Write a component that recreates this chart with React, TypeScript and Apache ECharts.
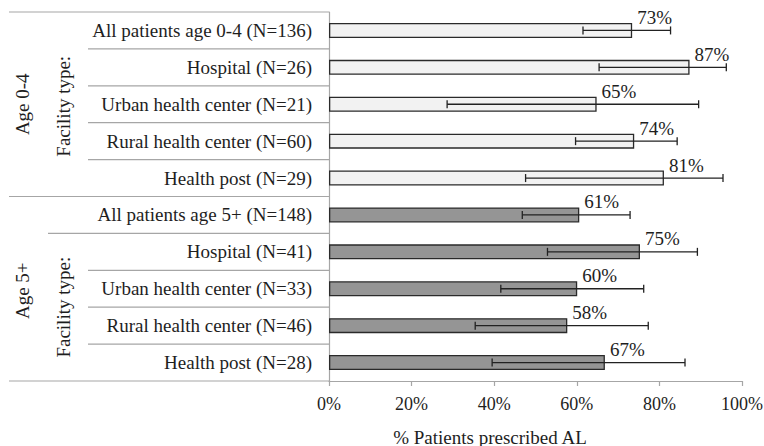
import React, { useEffect, useRef } from "react";
import * as echarts from "echarts";

const categories = [
  "All patients age 0-4 (N=136)",
  "Hospital (N=26)",
  "Urban health center (N=21)",
  "Rural health center (N=60)",
  "Health post (N=29)",
  "All patients age 5+ (N=148)",
  "Hospital (N=41)",
  "Urban health center (N=33)",
  "Rural health center (N=46)",
  "Health post (N=28)",
];
const values = [73.4, 87.3, 64.8, 73.9, 81.1, 60.6, 75.3, 60.1, 57.7, 66.8];
const lowerCI = [61.5, 65.4, 28.6, 59.7, 47.6, 46.8, 52.9, 41.6, 35.4, 39.5];
const upperCI = [82.7, 96.2, 89.5, 84.3, 95.4, 72.9, 89.2, 76.2, 77.3, 86.2];
const ageGroup = [0, 0, 0, 0, 0, 1, 1, 1, 1, 1];
const xTicks = [0, 20, 40, 60, 80, 100];

const FONT = "Liberation Serif";
const W = 764;
const H = 446;
const GRID_LEFT = 329;
const GRID_RIGHT = 22;
const GRID_TOP = 12;
const GRID_BOTTOM = 65;
const fills = ["#f2f2f2", "#959595"];
const TEXT = "#1e1e1e";

export default function App() {
  const ref = useRef<HTMLDivElement>(null);
  useEffect(() => {
    document.body.style.margin = "0";
    const chart = echarts.init(ref.current!, null, { renderer: "svg" });
    const plotH = H - GRID_TOP - GRID_BOTTOM;
    const band = plotH / categories.length;
    const yb = (i: number) => GRID_TOP + i * band;
    const lineStart = [9, 88, 88, 88, 88, 9, 48, 88, 88, 88, 9];
    const lineColor = "#a6a6a6";
    const graphics: any[] = lineStart.map((x0, i) => ({
      type: "line",
      shape: { x1: x0, y1: yb(i), x2: GRID_LEFT, y2: yb(i) },
      style: { stroke: lineColor, lineWidth: 1.2 },
      silent: true,
    }));
    const rotText = (text: string, x: number, y: number) => ({
      type: "text",
      x,
      y,
      rotation: Math.PI / 2,
      style: {
        text,
        align: "center",
        verticalAlign: "middle",
        fontFamily: FONT,
        fontSize: 19,
        fill: TEXT,
      },
      silent: true,
    });
    graphics.push(rotText("Age 0-4", 22, (yb(0) + yb(5)) / 2));
    graphics.push(rotText("Facility type:", 63, (yb(0) + yb(5)) / 2 + 2));
    graphics.push(rotText("Age 5+", 22, (yb(5) + yb(10)) / 2 + 2));
    graphics.push(rotText("Facility type:", 63, (yb(6) + yb(10)) / 2));
    graphics.push({
      type: "text",
      x: 490,
      y: 437,
      style: {
        text: "% Patients prescribed AL",
        align: "center",
        verticalAlign: "middle",
        fontFamily: FONT,
        fontSize: 19,
        fill: TEXT,
      },
      silent: true,
    });

    chart.setOption({
      animation: false,
      textStyle: { fontFamily: FONT },
      grid: {
        left: GRID_LEFT,
        right: GRID_RIGHT,
        top: GRID_TOP,
        bottom: GRID_BOTTOM,
        containLabel: false,
        outerBoundsMode: "none",
      },
      xAxis: {
        type: "value",
        min: 0,
        max: 100,
        interval: 20,
        splitLine: { show: false },
        axisLine: { show: true, lineStyle: { color: lineColor, width: 1.2 } },
        axisTick: { show: true, length: 5, lineStyle: { color: lineColor, width: 1.2 } },
        axisLabel: {
          formatter: (v: number) => (xTicks.includes(v) ? `${v}%` : ""),
          fontFamily: FONT,
          fontSize: 18,
          color: TEXT,
          margin: 14,
        },
      },
      yAxis: {
        type: "category",
        data: categories,
        inverse: true,
        axisLine: { show: true, lineStyle: { color: lineColor, width: 1.2 } },
        axisTick: { show: false },
        axisLabel: {
          fontFamily: FONT,
          fontSize: 19,
          color: TEXT,
          margin: 17,
        },
      },
      graphic: graphics,
      series: [
        {
          type: "bar",
          barWidth: 15,
          data: values.map((v, i) => ({
            value: v,
            itemStyle: {
              color: fills[ageGroup[i]],
              borderColor: "#2a2a2a",
              borderWidth: 1.3,
            },
          })),
          label: {
            show: true,
            position: "right",
            distance: 5,
            offset: [0, -13],
            formatter: (p: any) => `${Math.round(p.value)}%`,
            fontFamily: FONT,
            fontSize: 19,
            color: TEXT,
          },
          z: 2,
        },
        {
          type: "custom",
          data: lowerCI.map((lo, i) => [i, lo, upperCI[i]]),
          encode: { x: [1, 2], y: 0 },
          z: 3,
          renderItem: (params: any, api: any) => {
            const idx = api.value(0);
            const p1 = api.coord([api.value(1), idx]);
            const p2 = api.coord([api.value(2), idx]);
            const cap = 4;
            const st = { stroke: "#222", lineWidth: 1.3 };
            return {
              type: "group",
              children: [
                { type: "line", shape: { x1: p1[0], y1: p1[1], x2: p2[0], y2: p2[1] }, style: st },
                { type: "line", shape: { x1: p1[0], y1: p1[1] - cap, x2: p1[0], y2: p1[1] + cap }, style: st },
                { type: "line", shape: { x1: p2[0], y1: p2[1] - cap, x2: p2[0], y2: p2[1] + cap }, style: st },
              ],
            };
          },
        },
      ],
    });
    return () => chart.dispose();
  }, []);
  return <div ref={ref} style={{ width: W, height: H }} />;
}
